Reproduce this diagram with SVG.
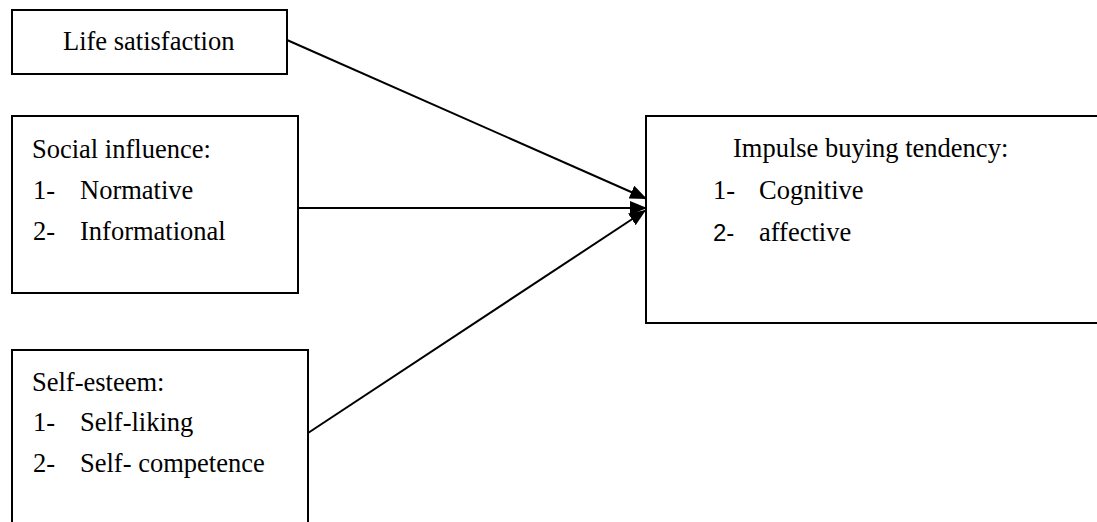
<svg xmlns="http://www.w3.org/2000/svg" width="1097" height="522" viewBox="0 0 1097 522">
<style>
.box{fill:#fff;stroke:#000;stroke-width:2}
.t{font-family:"Liberation Serif","Times New Roman",serif;font-size:26.5px;fill:#000}
.s{font-family:"Liberation Sans",Arial,sans-serif;font-size:24px;fill:#000}
.c{stroke:#000;stroke-width:2;fill:none}
</style>
<defs>
<marker id="ah" markerUnits="userSpaceOnUse" markerWidth="18" markerHeight="14" refX="17" refY="7" orient="auto">
<path d="M0,0 L17,7 L0,14 Z" fill="#000"/>
</marker>
</defs>
<g id="connectors">
<line class="c" x1="287" y1="40" x2="647" y2="199" marker-end="url(#ah)"/>
<line class="c" x1="298" y1="208" x2="647" y2="208" marker-end="url(#ah)"/>
<line class="c" x1="308" y1="433" x2="646" y2="210" marker-end="url(#ah)"/>
</g>
<g id="life">
<rect class="box" x="12" y="10" width="275" height="64"/>
<text class="t" x="63" y="50">Life satisfaction</text>
</g>
<g id="social">
<rect class="box" x="12" y="116" width="286" height="177"/>
<text class="t" x="32" y="158">Social influence:</text>
<text class="t" x="33" y="199">1-</text><text class="t" x="80" y="199">Normative</text>
<text class="t" x="33" y="240">2-</text><text class="t" x="80" y="240">Informational</text>
</g>
<g id="self">
<rect class="box" x="12" y="350" width="296" height="190"/>
<text class="t" x="32" y="391">Self-esteem:</text>
<text class="t" x="33" y="431">1-</text><text class="t" x="80" y="431">Self-liking</text>
<text class="t" x="33" y="472">2-</text><text class="t" x="80" y="472">Self- competence</text>
</g>
<g id="impulse">
<rect class="box" x="646" y="116" width="470" height="207"/>
<text class="t" x="733" y="157">Impulse buying tendency:</text>
<text class="t" x="713" y="199">1-</text><text class="t" x="759" y="199">Cognitive</text>
<text class="s" x="713" y="241">2-</text><text class="t" x="759" y="241">affective</text>
</g>
</svg>
